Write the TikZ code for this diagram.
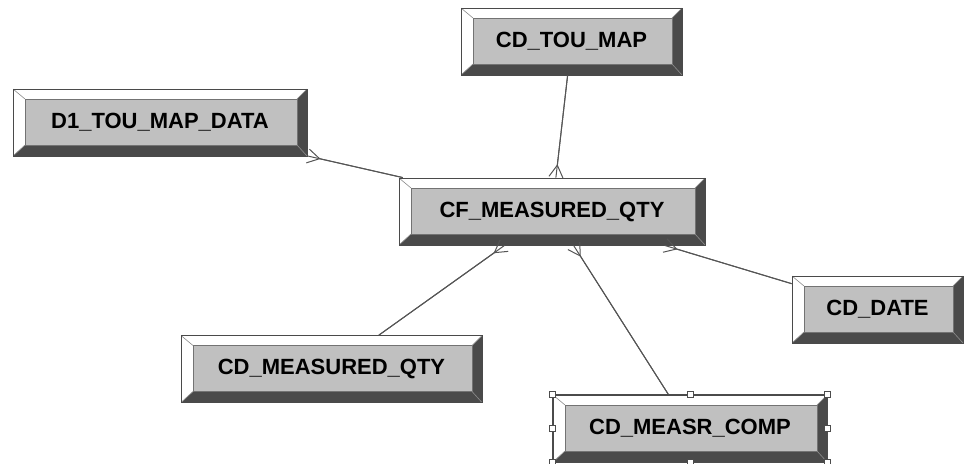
\documentclass[tikz,border=0pt]{standalone}
\usepackage{fontspec}
\setmainfont{Liberation Sans}
\usetikzlibrary{arrows.meta}
\definecolor{bevdark}{HTML}{4A4A4A}
\definecolor{bevface}{HTML}{C0C0C0}
\definecolor{linkgray}{HTML}{555555}
\tikzset{
  tbl/.style={rectangle, inner sep=0pt, minimum height=33.5pt, draw=bevdark,
    line width=0.4pt, fill=bevdark, font=\bfseries\fontsize{11}{13}\selectfont,
    path picture={
      \fill[white] (path picture bounding box.north west)
        -- (path picture bounding box.north east)
        -- ([xshift=-5pt,yshift=-5pt]path picture bounding box.north east)
        -- ([xshift=6pt,yshift=-5pt]path picture bounding box.north west)
        -- ([xshift=6pt,yshift=5.5pt]path picture bounding box.south west)
        -- (path picture bounding box.south west) -- cycle;
      \filldraw[fill=bevface, draw=black!55, line width=0.3pt]
        ([xshift=6pt,yshift=-5pt]path picture bounding box.north west)
        rectangle ([xshift=-5pt,yshift=5.5pt]path picture bounding box.south east);
      \draw[black!45, line width=0.3pt]
        (path picture bounding box.north west) -- ([xshift=6pt,yshift=-5pt]path picture bounding box.north west)
        (path picture bounding box.north east) -- ([xshift=-5pt,yshift=-5pt]path picture bounding box.north east)
        (path picture bounding box.south west) -- ([xshift=6pt,yshift=5.5pt]path picture bounding box.south west)
        (path picture bounding box.south east) -- ([xshift=-5pt,yshift=5.5pt]path picture bounding box.south east);
    }},
  link/.style={draw=linkgray, line width=0.5pt},
  many/.style={-{Straight Barb[reversed, length=6pt, width=7pt]},
    postaction={draw=linkgray, line width=0.5pt, arrows=-}},
  handle/.style={rectangle, draw=black!70, fill=white, line width=0.4pt,
    minimum size=3pt, inner sep=0pt}
}
\begin{document}
\begin{tikzpicture}[x=0.5pt, y=-0.5pt]
  \useasboundingbox (0,0) rectangle (965,464);
  % Tables
  \node[tbl, minimum width=110.5pt] (tou) at (571.5,41.5) {CD\_TOU\_MAP};
  \node[tbl, minimum width=147pt] (d1) at (160,122.5) {D1\_TOU\_MAP\_DATA};
  \node[tbl, minimum width=153pt] (cf) at (552,211.5) {CF\_MEASURED\_QTY};
  \node[tbl, minimum width=85.5pt] (date) at (877.5,309.5) {CD\_DATE};
  \node[tbl, minimum width=150.5pt] (mq) at (331.5,369) {CD\_MEASURED\_QTY};
  \node[tbl, minimum width=137pt] (comp) at (690,428.5) {CD\_MEASR\_COMP};
  % Links
  \draw[link, many] (tou) -- (cf);
  \draw[link, many] (cf) -- (d1);
  \draw[link, many] (mq) -- (cf);
  \draw[link, many] (comp) -- (cf);
  \draw[link, many] (date) -- (cf);
  % Selection
  \draw[black!70, line width=0.3pt] (comp.north west) rectangle (comp.south east);
  \foreach \a in {north west, north, north east, west, east, south west, south, south east}
    \node[handle] at (comp.\a) {};
\end{tikzpicture}
\end{document}
